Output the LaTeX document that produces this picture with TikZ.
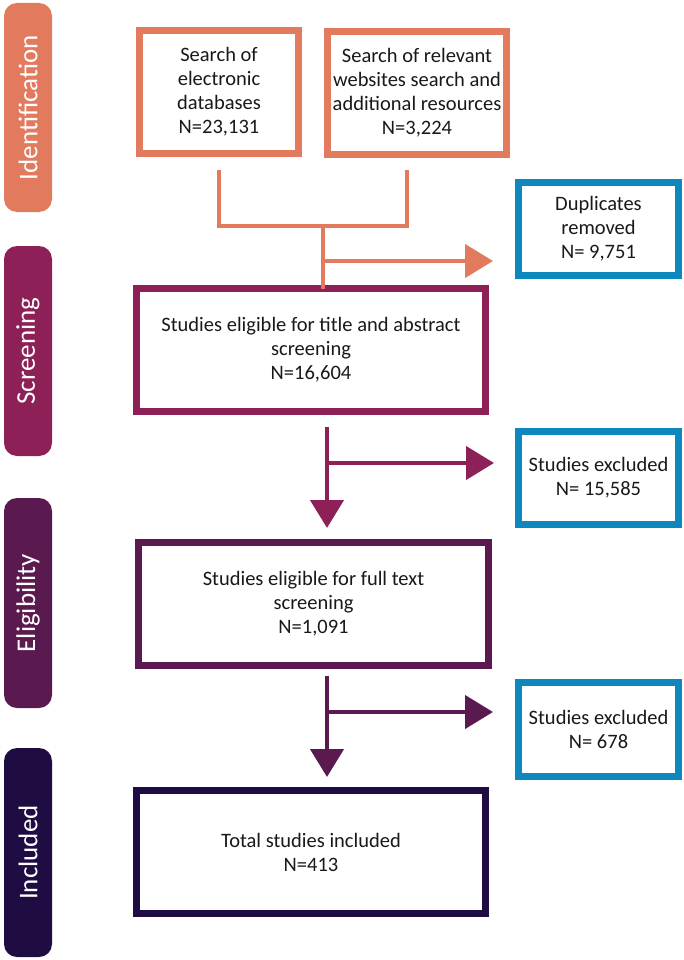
\documentclass[tikz,border=0pt]{standalone}
\usepackage{fontspec}
\setmainfont{Carlito}
\usetikzlibrary{arrows.meta}
\definecolor{corange}{RGB}{226,122,94}
\definecolor{cmagenta}{RGB}{142,32,88}
\definecolor{cplum}{RGB}{91,26,79}
\definecolor{cnavy}{RGB}{31,12,66}
\definecolor{cblue}{RGB}{14,134,190}
\definecolor{ctext}{RGB}{25,25,25}
\tikzset{
  box/.style={draw, line width=7pt, fill=white, align=center, text=ctext,
    font=\fontsize{20.5}{24}\selectfont, inner sep=0pt, outer sep=0pt},
  sidebar/.style={fill=#1, rounded corners=13pt, minimum width=48pt, inner sep=0pt, outer sep=0pt},
  sidelabel/.style={rotate=90, text=white, font=\fontsize{27}{30}\selectfont, inner sep=0pt},
  conn/.style={line width=4.5pt, draw=#1},
  tipped/.style={line width=4.5pt, draw=#1, fill=#1, -{Triangle[length=28pt,width=33pt]}},
}
\begin{document}
\begin{tikzpicture}[x=1pt,y=-1pt]
\useasboundingbox (0,0) rectangle (684,960);
% side bars
\node[sidebar=corange, minimum height=209pt] (sb1) at (28,107.5) {};
\node[sidelabel] (sl1) at (sb1.center) {Identification};
\node[sidebar=cmagenta, minimum height=210pt] (sb2) at (28,351) {};
\node[sidelabel] (sl2) at (sb2.center) {Screening};
\node[sidebar=cplum, minimum height=210pt] (sb3) at (28,603) {};
\node[sidelabel] (sl3) at (sb3.center) {Eligibility};
\node[sidebar=cnavy, minimum height=209pt] (sb4) at (28,852.5) {};
\node[sidelabel] (sl4) at (sb4.center) {Included};
% boxes
\node[box, draw=corange, minimum width=159pt, minimum height=123pt] (b1) at (219,92)
  {Search of\\electronic\\databases\\N=23,131};
\node[box, draw=corange, minimum width=179pt, minimum height=123pt] (b2) at (417,93)
  {Search of relevant\\websites search and\\additional resources\\N=3,224};
\node[box, draw=cblue, minimum width=160pt, minimum height=93pt] (dup) at (598.5,229)
  {Duplicates\\removed\\N= 9,751};
\node[box, draw=cmagenta, minimum width=349pt, minimum height=123pt] (scr) at (311,350)
  {Studies eligible for title and abstract\\screening\\N=16,604};
\node[box, draw=cblue, minimum width=160pt, minimum height=93pt] (ex1) at (598.5,478)
  {Studies excluded\\N= 15,585};
\node[box, draw=cplum, minimum width=350pt, minimum height=123pt] (eli) at (313.5,604)
  {Studies eligible for full text\\screening\\N=1,091};
\node[box, draw=cblue, minimum width=160pt, minimum height=94pt] (ex2) at (598.5,729.5)
  {Studies excluded\\N= 678};
\node[box, draw=cnavy, minimum width=349pt, minimum height=123pt] (inc) at (311,852)
  {Total studies included\\N=413};
% connector points
\coordinate (c1) at (219,170);
\coordinate (c2) at (407,170);
\coordinate (j1) at (323,226);
\coordinate (h1) at (323,261);
\coordinate (t1) at (493,261);
\coordinate (s2) at (327,427);
\coordinate (h2) at (327,463);
\coordinate (t2) at (494,463);
\coordinate (d2) at (327,528);
\coordinate (s3) at (327,676);
\coordinate (h3) at (327,712);
\coordinate (t3) at (493,712);
\coordinate (d3) at (327,777);
% identification connectors
\draw[conn=corange] (c1) |- (j1) -| (c2);
\draw[conn=corange] (j1) -- (j1 |- scr.north);
\draw[tipped=corange] (h1) -- (t1);
% screening connectors
\draw[tipped=cmagenta] (s2) -- (d2);
\draw[tipped=cmagenta] (h2) -- (t2);
% eligibility connectors
\draw[tipped=cplum] (s3) -- (d3);
\draw[tipped=cplum] (h3) -- (t3);
\end{tikzpicture}
\end{document}
